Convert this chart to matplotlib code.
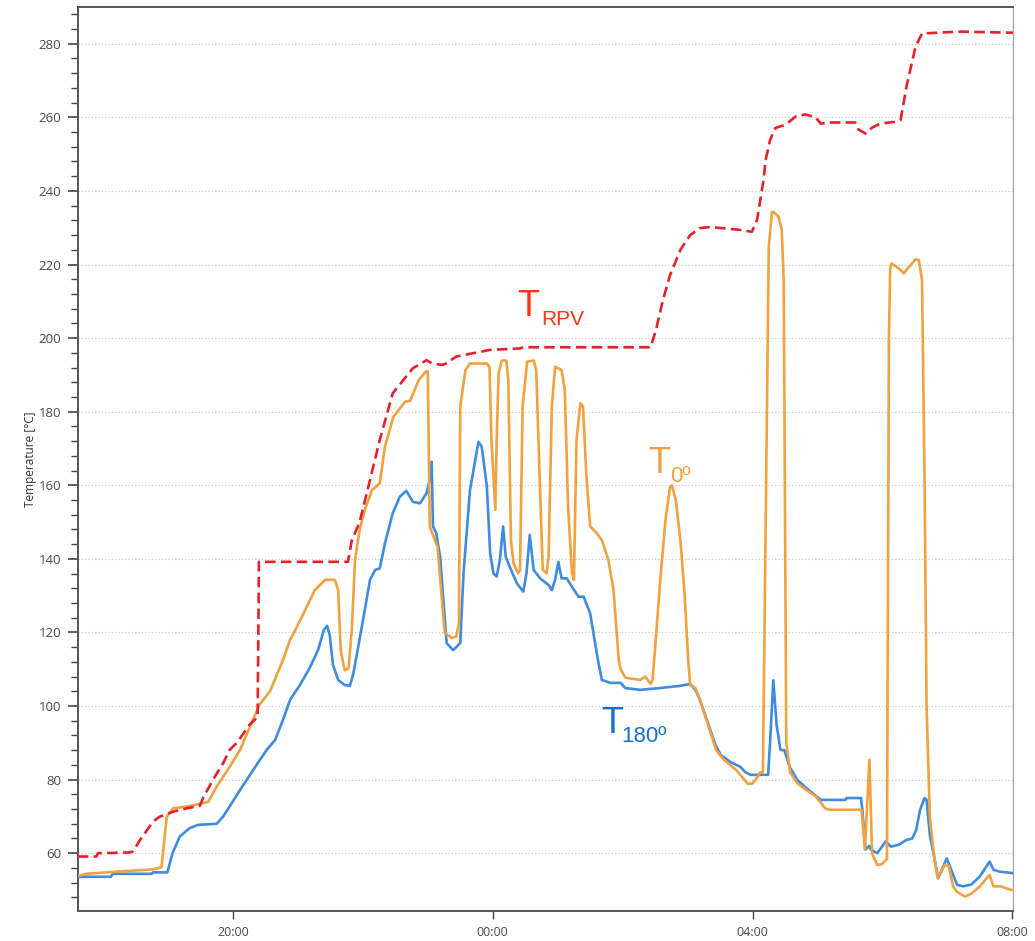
import matplotlib
matplotlib.use("Agg")
import matplotlib.pyplot as plt
from matplotlib.ticker import MultipleLocator, FixedLocator, FuncFormatter

# time in clock hours (24 = midnight, 32 = 08:00 next day)
t_rpv = [17.61, 17.90, 17.92, 18.41, 18.46, 18.57, 18.77, 18.87, 19.08, 19.29,
         19.49, 19.54, 19.69, 19.85, 19.95, 20.06, 20.26, 20.38, 20.40, 21.77,
         21.83, 21.95, 22.11, 22.26, 22.46, 22.77, 22.98, 23.07, 23.23, 23.29,
         23.44, 23.70, 23.96, 24.42, 24.47, 26.43, 26.51, 26.62, 26.73, 26.89,
         27.04, 27.19, 27.35, 27.81, 27.99, 28.07, 28.17, 28.20, 28.27, 28.35,
         28.51, 28.66, 28.81, 28.97, 29.05, 29.20, 29.58, 29.63, 29.74, 29.84,
         29.97, 30.20, 30.28, 30.38, 30.51, 30.61, 31.20, 32.01]
rpv = [59.1, 59.1, 60.0, 60.2, 60.5, 63.6, 68.6, 69.9, 71.3, 72.2,
       72.9, 75.0, 79.9, 84.5, 88.1, 90.0, 95.0, 97.0, 139.2, 139.2,
       145.0, 150.0, 161.4, 172.3, 185.0, 191.8, 194.0, 193.1, 192.7, 193.2,
       195.0, 195.9, 196.8, 197.2, 197.5, 197.5, 202.0, 210.3, 217.1, 224.0,
       228.0, 229.9, 230.2, 229.4, 228.9, 232.1, 243.0, 248.3, 253.8, 257.1,
       258.0, 260.2, 260.8, 260.0, 258.3, 258.6, 258.6, 256.7, 255.6, 257.2,
       258.3, 258.8, 259.3, 269.2, 279.2, 282.8, 283.3, 283.0]

t_0 = [17.61, 17.74, 18.21, 18.77, 18.90, 18.98, 19.08, 19.29, 19.49, 19.62,
       19.75, 19.95, 20.11, 20.41, 20.57, 20.77, 20.88, 20.97, 21.11, 21.26,
       21.42, 21.57, 21.62, 21.66, 21.72, 21.78, 21.83, 21.88, 21.95, 22.03,
       22.14, 22.26, 22.34, 22.47, 22.65, 22.73, 22.86, 22.97, 23.00, 23.03,
       23.15, 23.26, 23.37, 23.44, 23.48, 23.50, 23.58, 23.65, 23.91, 23.95,
       23.98, 24.04, 24.06, 24.09, 24.14, 24.21, 24.24, 24.28, 24.32, 24.39,
       24.42, 24.46, 24.53, 24.63, 24.67, 24.72, 24.77, 24.83, 24.86, 24.91,
       24.96, 25.06, 25.11, 25.16, 25.22, 25.25, 25.29, 25.35, 25.39, 25.44,
       25.50, 25.60, 25.68, 25.78, 25.86, 25.94, 25.97, 26.04, 26.27, 26.35,
       26.43, 26.46, 26.51, 26.58, 26.66, 26.73, 26.76, 26.82, 26.89, 26.95,
       27.01, 27.04, 27.12, 27.19, 27.35, 27.44, 27.56, 27.75, 27.93, 28.00,
       28.07, 28.12, 28.16, 28.25, 28.30, 28.32, 28.40, 28.45, 28.48, 28.52,
       28.58, 28.69, 28.81, 28.97, 29.12, 29.18, 29.68, 29.73, 29.80, 29.84,
       29.92, 29.99, 30.07, 30.10, 30.12, 30.14, 30.17, 30.25, 30.33, 30.40,
       30.51, 30.56, 30.61, 30.65, 30.68, 30.73, 30.79, 30.85, 30.96, 31.02,
       31.09, 31.14, 31.27, 31.37, 31.50, 31.65, 31.71, 31.83, 31.90, 31.99]
temp_0 = [53.8, 54.4, 55.0, 55.6, 56.2, 69.9, 72.2, 72.7, 73.4, 74.0,
          78.1, 83.5, 88.1, 100.4, 104.0, 112.5, 118.0, 121.0, 126.0, 131.5,
          134.3, 134.3, 131.5, 115.0, 109.7, 110.3, 120.7, 139.7, 147.8, 153.3,
          158.7, 160.5, 170.5, 178.6, 182.7, 183.0, 188.6, 190.9, 191.0, 148.8,
          143.3, 119.9, 118.5, 118.9, 122.6, 181.4, 191.3, 193.1, 193.1, 192.2,
          172.3, 153.3, 172.0, 190.4, 193.9, 193.9, 188.6, 145.1, 138.8, 136.1,
          137.0, 181.4, 193.6, 193.9, 191.3, 163.3, 137.0, 136.1, 140.6, 181.4,
          192.2, 191.3, 185.9, 154.2, 136.1, 134.3, 172.3, 182.3, 181.4, 163.3,
          148.8, 147.0, 145.1, 139.7, 131.5, 112.5, 110.0, 107.7, 107.1, 108.0,
          106.0, 107.0, 118.0, 134.3, 150.6, 159.5, 160.0, 155.9, 145.0, 131.5,
          112.5, 105.7, 104.9, 101.7, 93.0, 88.0, 85.4, 82.6, 78.8, 79.0,
          80.5, 82.0, 82.0, 224.8, 234.3, 234.3, 233.0, 229.4, 215.8, 90.0,
          82.0, 79.0, 77.4, 75.5, 72.2, 71.8, 71.8, 61.0, 85.4, 60.0,
          56.8, 57.0, 58.5, 200.0, 219.0, 220.3, 219.9, 219.0, 217.6, 219.2,
          221.4, 221.2, 215.8, 160.0, 100.0, 70.0, 60.0, 53.2, 56.8, 56.5,
          51.0, 49.6, 48.2, 49.0, 51.0, 54.1, 51.0, 51.0, 50.5, 50.0]

t_180 = [17.61, 18.12, 18.15, 18.75, 18.77, 18.99, 19.07, 19.18, 19.33, 19.46,
         19.75, 19.85, 20.11, 20.31, 20.52, 20.65, 20.77, 20.88, 21.03, 21.18,
         21.31, 21.40, 21.45, 21.49, 21.54, 21.62, 21.72, 21.80, 21.85, 21.92,
         22.03, 22.11, 22.19, 22.26, 22.34, 22.46, 22.57, 22.67, 22.77, 22.88,
         22.98, 23.03, 23.06, 23.08, 23.13, 23.19, 23.29, 23.39, 23.50, 23.55,
         23.65, 23.78, 23.83, 23.91, 23.96, 24.01, 24.06, 24.11, 24.16, 24.20,
         24.26, 24.37, 24.47, 24.52, 24.57, 24.63, 24.73, 24.86, 24.91, 24.96,
         25.01, 25.06, 25.14, 25.22, 25.32, 25.40, 25.50, 25.62, 25.68, 25.81,
         25.97, 26.04, 26.27, 26.58, 26.89, 27.04, 27.12, 27.19, 27.27, 27.35,
         27.43, 27.51, 27.66, 27.81, 27.89, 27.97, 28.24, 28.27, 28.32, 28.37,
         28.43, 28.49, 28.57, 28.69, 28.81, 29.05, 29.43, 29.45, 29.67, 29.69,
         29.74, 29.80, 29.82, 29.92, 30.05, 30.13, 30.25, 30.37, 30.46, 30.52,
         30.58, 30.65, 30.68, 30.73, 30.86, 30.99, 31.15, 31.24, 31.37, 31.50,
         31.65, 31.71, 31.80, 32.00]
temp_180 = [53.6, 53.6, 54.4, 54.4, 54.8, 54.8, 60.0, 64.5, 66.8, 67.7,
            68.0, 70.0, 77.2, 82.6, 88.1, 90.8, 96.2, 101.7, 105.7, 110.3,
            115.2, 120.7, 121.8, 119.3, 111.2, 107.1, 105.7, 105.5, 108.5, 115.2,
            126.1, 134.3, 137.0, 137.4, 144.2, 152.4, 156.9, 158.5, 155.5, 155.1,
            157.8, 161.4, 166.4, 148.8, 147.0, 140.6, 117.1, 115.2, 117.1, 136.1,
            158.7, 171.8, 170.5, 159.6, 141.5, 136.1, 135.2, 139.7, 148.8, 140.6,
            137.9, 133.4, 131.1, 136.1, 146.5, 137.0, 134.7, 132.9, 131.5, 134.3,
            139.2, 134.7, 134.7, 132.4, 129.7, 129.7, 125.2, 112.5, 107.1, 106.3,
            106.3, 104.9, 104.4, 104.9, 105.5, 106.0, 104.4, 101.7, 97.6, 93.5,
            89.4, 86.7, 84.8, 83.5, 82.0, 81.3, 81.3, 90.0, 107.0, 95.0,
            88.1, 88.0, 83.5, 79.9, 78.0, 74.5, 74.5, 75.0, 75.0, 72.0,
            61.0, 62.0, 61.0, 60.0, 63.2, 61.8, 62.3, 63.6, 64.0, 66.3,
            71.8, 75.0, 74.5, 65.0, 53.2, 58.6, 51.4, 51.0, 51.5, 53.7,
            57.7, 55.5, 55.0, 54.6]

x_ticks = [20, 24, 28, 32]

fig = plt.figure(figsize=(10.35, 9.41), dpi=100)
ax = fig.add_axes([0.0751, 0.0319, 0.9036, 0.9607])

ax.plot(t_180, temp_180, color="#3f8be0", lw=1.9, zorder=3)
ax.plot(t_0, temp_0, color="#f0a140", lw=1.9, zorder=4)
ax.plot(t_rpv, rpv, color="#e8202a", lw=1.9, dashes=(4, 2), zorder=5)

ax.set_xlim(17.61, 32.01)
ax.set_ylim(44.3, 290)

ax.xaxis.set_major_locator(FixedLocator(x_ticks))
ax.xaxis.set_major_formatter(FuncFormatter(lambda h, pos: "%02d:00" % (int(round(h)) % 24)))
ax.yaxis.set_major_locator(MultipleLocator(20))
ax.yaxis.set_minor_locator(MultipleLocator(4))

ax.grid(axis="y", which="major", color="#c4c4c4", lw=0.8, ls=(0, (1, 2)))
ax.set_axisbelow(True)

for s in ["left", "bottom", "top"]:
    ax.spines[s].set_color("#555555")
    ax.spines[s].set_linewidth(1.4)
ax.spines["right"].set_color("#aaaaaa")
ax.spines["right"].set_linewidth(1.0)

ax.tick_params(axis="y", which="major", length=7, width=1.2, color="#444444",
               labelsize=9.5, labelcolor="#4a4a4a", pad=5)
ax.tick_params(axis="y", which="minor", length=5, width=1.0, color="#444444")
ax.tick_params(axis="x", which="major", length=6, width=1.0, color="#444444",
               labelsize=9, labelcolor="#4a4a4a", pad=5)
for lab in ax.get_xticklabels() + ax.get_yticklabels():
    lab.set_family("Open Sans")

ax.set_ylabel("Temperature [°C]", fontsize=8.5, color="#333333",
              family="Open Sans", labelpad=1)

# curve labels
ax.text(24.37, 205.9, "T", color="#ff3312", fontsize=26, family="Liberation Sans")
ax.text(24.74, 203.6, "RPV", color="#ff3312", fontsize=15, family="Liberation Sans")
ax.text(26.40, 163.4, "T", color="#f0a140", fontsize=26, family="Liberation Sans")
ax.text(26.73, 160.9, "0º", color="#f0a140", fontsize=16, family="Liberation Sans")
ax.text(25.67, 92.6, "T", color="#1a70c8", fontsize=26, family="Liberation Sans")
ax.text(25.98, 90.1, "180º", color="#1a70c8", fontsize=16, family="Liberation Sans")

plt.savefig("out.png", dpi=100)
